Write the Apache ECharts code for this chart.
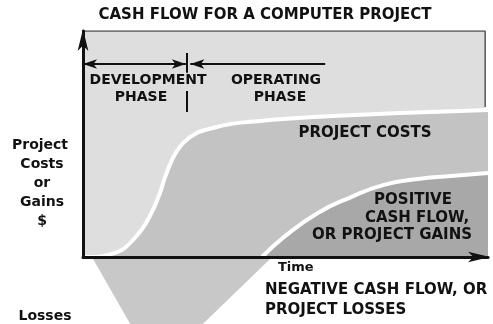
<!DOCTYPE html>
<html>
  <head>
    <meta charset="utf-8" />
    <title>Cash Flow for a Computer Project</title>
    <script src="https://cdn.jsdelivr.net/npm/echarts@6/dist/echarts.min.js"></script>
    <style>
      body {
        margin: 0;
        padding: 0;
        background: #fff;
      }
      #main {
        width: 493px;
        height: 324px;
      }
    </style>
  </head>
  <body>
    <div id="main"></div>
    <script type="text/javascript">
      // outer light box (whole period)
      var boxX = [0, 99.3, 99.3];
      var boxY = [100, 100, 66.4];

      // cumulative project costs (S-curve)
      var costX = [0.5, 4.7, 9.6, 12.8, 15.3, 17.5, 19.0, 20.2, 22.2, 24.7, 28.1, 32.1, 36.3, 40.5, 49.4, 61.7, 78.3, 100];
      var costY = [0, 0.4, 3.1, 8.4, 14.2, 21.7, 28.3, 35.0, 43.8, 50.4, 54.9, 57.1, 58.8, 59.7, 61.1, 62.4, 63.7, 65.0];

      // project gains
      var gainX = [44.2, 49.6, 58.0, 66.2, 74.3, 82.7, 90.9, 100];
      var gainY = [0, 8.8, 19.5, 26.5, 31.9, 34.5, 35.8, 37.2];

      // negative cash flow wedge below the time axis
      var lossX = [2.2, 12.1, 28.8, 46.7];
      var lossY = [0, -31, -31, 0];

      // phase boundaries on the time axis
      var phaseStart = 0;
      var phaseSplit = 25.7;
      var phaseEnd = 59.8;
      var phaseLevel = 85.4;

      function pairs(xs, ys) {
        return xs.map(function (x, i) {
          return [x, ys[i]];
        });
      }

      var myChart = echarts.init(document.getElementById("main"));
      var font = "DejaVu Sans";
      var ink = "#111";

      function txt(x, y, s, size, align) {
        return {
          type: "text",
          x: x,
          y: y,
          z: 100,
          style: {
            text: s,
            font: "bold " + size + "px '" + font + "'",
            fill: ink,
            align: align || "center",
            verticalAlign: "middle",
          },
        };
      }

      var option = {
        animation: false,
        grid: { left: 83, top: 31, right: 5, bottom: 67 },
        xAxis: {
          type: "value",
          min: 0,
          max: 100,
          z: 10,
          axisLine: {
            show: true,
            symbol: ["none", "arrow"],
            symbolSize: [8, 22],
            symbolOffset: [0, 2],
            lineStyle: { color: ink, width: 3 },
          },
          axisTick: { show: false },
          axisLabel: { show: false },
          splitLine: { show: false },
        },
        yAxis: {
          type: "value",
          min: 0,
          max: 100,
          z: 10,
          axisLine: {
            show: true,
            symbol: ["none", "arrow"],
            symbolSize: [8, 22],
            symbolOffset: [0, 2],
            lineStyle: { color: ink, width: 3 },
          },
          axisTick: { show: false },
          axisLabel: { show: false },
          splitLine: { show: false },
        },
        series: [
          {
            name: "box",
            type: "line",
            data: pairs(boxX, boxY),
            symbol: "none",
            lineStyle: { color: "#555", width: 1.5 },
            areaStyle: { color: "#dedede", opacity: 1 },
            z: 1,
            markLine: {
              silent: true,
              symbol: ["arrow", "arrow"],
              symbolSize: [7, 14],
              label: { show: false },
              lineStyle: { color: ink, width: 2, type: "solid" },
              data: [
                [
                  { coord: [phaseStart, phaseLevel] },
                  { coord: [phaseSplit - 0.3, phaseLevel] },
                ],
                [
                  { coord: [phaseSplit + 0.8, phaseLevel], symbol: "arrow" },
                  { coord: [phaseEnd, phaseLevel], symbol: "none" },
                ],
                [
                  { coord: [phaseSplit, 90.3], symbol: "none" },
                  { coord: [phaseSplit, 81.5], symbol: "none" },
                ],
                [
                  { coord: [phaseSplit, 73.5], symbol: "none" },
                  { coord: [phaseSplit, 64.2], symbol: "none" },
                ],
              ],
            },
          },
          {
            name: "Project costs",
            type: "line",
            data: pairs(costX, costY),
            smooth: 0.3,
            symbol: "none",
            lineStyle: { color: "#fff", width: 4 },
            areaStyle: { color: "#c3c3c3", opacity: 1 },
            z: 2,
          },
          {
            name: "Project gains",
            type: "line",
            data: pairs(gainX, gainY),
            smooth: 0.5,
            symbol: "none",
            lineStyle: { color: "#fff", width: 4 },
            areaStyle: { color: "#a8a8a8", opacity: 1 },
            z: 3,
          },
          {
            name: "Project losses",
            type: "line",
            data: pairs(lossX, lossY),
            clip: false,
            symbol: "none",
            lineStyle: { width: 0 },
            areaStyle: { color: "#c8c8c8", opacity: 1 },
            z: 1,
            markLine: {
              silent: true,
              symbol: ["none", "arrow"],
              symbolSize: [8, 16],
              label: { show: false },
              lineStyle: { color: ink, width: 2.5, type: "solid" },
              data: [[{ coord: [41.7, -22.6] }, { coord: [20.7, -22.6] }]],
            },
          },
        ],
        graphic: [
          txt(265, 15, "CASH FLOW FOR A COMPUTER PROJECT", 15),
          txt(148, 80, "DEVELOPMENT", 14),
          txt(141, 97, "PHASE", 14),
          txt(276, 80, "OPERATING", 14),
          txt(280, 97, "PHASE", 14),
          txt(365, 133, "PROJECT COSTS", 15),
          txt(413, 200, "POSITIVE", 15),
          txt(417, 218, "CASH FLOW,", 15),
          txt(392, 235, "OR PROJECT GAINS", 15),
          txt(278, 268, "Time", 13, "left"),
          txt(265, 290, "NEGATIVE CASH FLOW, OR", 15, "left"),
          txt(265, 310, "PROJECT LOSSES", 15, "left"),
          txt(40, 145, "Project", 14),
          txt(42, 164, "Costs", 14),
          txt(42, 183, "or", 14),
          txt(42, 202, "Gains", 14),
          txt(42, 221, "$", 14),
          txt(45, 316, "Losses", 14),
        ],
      };

      myChart.setOption(option);
    </script>
  </body>
</html>
